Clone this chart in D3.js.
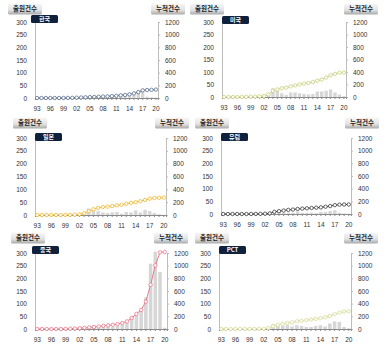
<!DOCTYPE html>
<meta charset="utf-8">
<style>
body { margin: 0; background: #fff; font-family: 'Noto Sans CJK KR', 'Noto Sans', sans-serif; }
svg { display: block; }
.tick text { font-size: 6.5px; fill: #333; }
</style>
<body>
<svg width="389" height="351"></svg>
<script src="https://cdn.jsdelivr.net/npm/d3@7"></script>
<script>

var years = d3.range(1993, 2021);
var yearLabels = ["93","96","99","02","05","08","11","14","17","20"];
var leftTicks = [0, 50, 100, 150, 200, 250, 300];
var rightTicks = [0, 200, 400, 600, 800, 1000, 1200];

var krAnnual  = [0,0,0,0,0,0,1,1,1,2,3,3,3,3,3,3,3,4,5,7,6,10,15,20,28,5,3,2];
var krCum     = [0,0,0,0,0,0,1,2,3,5,8,11,14,17,20,23,26,30,35,42,48,58,73,93,121,126,129,133];
var usAnnual  = [0,0,0,0,0,0,1,1,2,4,10,35,25,15,8,18,18,15,12,10,12,22,22,25,30,18,10,3];
var usCum     = [0,0,0,0,1,2,4,6,10,15,40,100,120,140,150,170,185,200,215,225,240,260,280,310,350,370,390,392];
var jpAnnual  = [0,0,0,0,0,0,0,1,2,4,8,25,25,15,10,8,10,12,5,12,10,18,10,20,15,8,3,1];
var jpCum     = [0,0,0,0,0,0,1,2,5,10,25,60,90,110,125,130,140,150,160,175,190,200,215,235,255,265,268,272];
var euAnnual  = [0,0,0,0,0,0,0,0,1,1,2,12,8,5,5,5,10,5,5,5,3,8,8,12,15,5,2,1];
var euCum     = [0,0,0,0,0,0,1,2,3,5,10,35,45,55,65,70,80,85,90,95,100,105,115,125,140,148,150,150];
var cnAnnual  = [0,0,0,0,0,0,1,1,2,3,5,6,7,8,9,8,8,12,17,25,45,55,80,125,258,305,225,5];
var cnCum     = [0,0,0,0,0,0,2,5,8,12,18,25,32,40,50,58,66,78,95,120,174,238,301,433,698,1004,1210,1215];
var pctAnnual = [0,0,0,0,0,0,0,0,1,2,5,20,15,12,15,10,15,12,8,8,12,15,10,22,30,28,8,3];
var pctCum    = [0,0,0,0,0,0,1,2,3,5,15,45,65,80,95,105,120,130,140,150,160,170,185,205,235,260,275,280];

var panels = [
  {name: "한국", annual: krAnnual,  cum: krCum,  color: "#5a6f8c", L: 35,  R: 158, T: 22,  B: 98,  hy: 9,   hl: 25,  hr: 168, tag: [31, 15]},
  {name: "미국", annual: usAnnual,  cum: usCum,  color: "#c9cf7c", L: 222, R: 346, T: 22,  B: 97,  hy: 9,   hl: 207, hr: 361, tag: [222, 16]},
  {name: "일본", annual: jpAnnual,  cum: jpCum,  color: "#f0b732", L: 35,  R: 166, T: 138, B: 215, hy: 123, hl: 30,  hr: 172, tag: [35, 133]},
  {name: "유럽", annual: euAnnual,  cum: euCum,  color: "#3d3d3d", L: 221, R: 351, T: 138, B: 214, hy: 123, hl: 212, hr: 362, tag: [221, 133]},
  {name: "중국", annual: cnAnnual,  cum: cnCum,  color: "#e8788c", L: 35,  R: 167, T: 253, B: 329, hy: 238, hl: 28,  hr: 171, tag: [32, 246]},
  {name: "PCT",  annual: pctAnnual, cum: pctCum, color: "#d7db96", L: 219, R: 351, T: 253, B: 329, hy: 238, hl: 212, hr: 361, tag: [219, 246]}
];

var svg = d3.select("svg");

var defs = svg.append("defs");
var grad = defs.append("linearGradient").attr("id", "hdr").attr("x1", 0).attr("y1", 0).attr("x2", 0).attr("y2", 1);
grad.append("stop").attr("offset", "0%").attr("stop-color", "#f7f7f7");
grad.append("stop").attr("offset", "60%").attr("stop-color", "#e2e2e2");
grad.append("stop").attr("offset", "100%").attr("stop-color", "#a9a9a9");

function header(x, y, label) {
  var g = svg.append("g").attr("transform", "translate(" + x + "," + y + ")");
  g.append("rect").attr("x", -17).attr("y", -5.5).attr("width", 34).attr("height", 11)
    .attr("rx", 1.5).attr("fill", "url(#hdr)");
  g.append("text").attr("text-anchor", "middle").attr("dy", "0.35em")
    .style("font-size", "6.5px").style("font-weight", "bold").attr("fill", "#222")
    .text(label);
}

panels.forEach(function(p) {
  var x = d3.scaleBand().domain(years).range([p.L, p.R]).paddingInner(0.25).paddingOuter(0.1);
  var yL = d3.scaleLinear().domain([0, 300]).range([p.B, p.T]);
  var yR = d3.scaleLinear().domain([0, 1200]).range([p.B, p.T]);
  var g = svg.append("g");

  // bars
  g.selectAll("rect.bar").data(p.annual).enter().append("rect")
    .attr("class", "bar")
    .attr("x", function(d, i) { return x(years[i]); })
    .attr("width", x.bandwidth())
    .attr("y", function(d) { return yL(d); })
    .attr("height", function(d) { return p.B - yL(d); })
    .attr("fill", "#d6d6d6");

  // axes
  var axL = g.append("g").attr("transform", "translate(" + p.L + ",0)")
    .call(d3.axisLeft(yL).tickValues(leftTicks).tickSize(0).tickPadding(8));
  axL.select(".domain").attr("stroke", "#bdbdbd");

  var axR = g.append("g").attr("transform", "translate(" + p.R + ",0)")
    .call(d3.axisRight(yR).tickValues(rightTicks).tickFormat(d3.format("d")).tickSize(2).tickPadding(5));
  axR.select(".domain").attr("stroke", "#bdbdbd");
  axR.selectAll(".tick line").attr("stroke", "#bdbdbd");

  var axB = g.append("g").attr("transform", "translate(0," + p.B + ")")
    .call(d3.axisBottom(x).tickSize(2).tickPadding(6).tickFormat(function(d) {
      var s = String(d).slice(2);
      return yearLabels.indexOf(s) >= 0 ? s : "";
    }));
  axB.select(".domain").attr("stroke", "#8a8a8a");
  axB.selectAll(".tick line").attr("stroke", "#8a8a8a");

  // cumulative line
  var line = d3.line()
    .x(function(d, i) { return x(years[i]) + x.bandwidth() / 2; })
    .y(function(d) { return yR(d); });
  g.append("path").datum(p.cum).attr("d", line)
    .attr("fill", "none").attr("stroke", p.color).attr("stroke-width", 1);
  g.selectAll("circle").data(p.cum).enter().append("circle")
    .attr("cx", function(d, i) { return x(years[i]) + x.bandwidth() / 2; })
    .attr("cy", function(d) { return yR(d); })
    .attr("r", 1.7)
    .attr("fill", "#fff").attr("stroke", p.color).attr("stroke-width", 0.8);

  // title tag
  var tg = g.append("g").attr("transform", "translate(" + p.tag[0] + "," + p.tag[1] + ")");
  tg.append("rect").attr("width", 27).attr("height", 8).attr("rx", 1.5).attr("fill", "#0f213d");
  tg.append("text").attr("x", 13.5).attr("y", 4).attr("dy", "0.35em").attr("text-anchor", "middle")
    .style("font-size", "6px").style("font-weight", "bold").attr("fill", "#fff").text(p.name);

  header(p.hl, p.hy, "출원건수");
  header(p.hr, p.hy, "누적건수");
});

</script>
</body>
